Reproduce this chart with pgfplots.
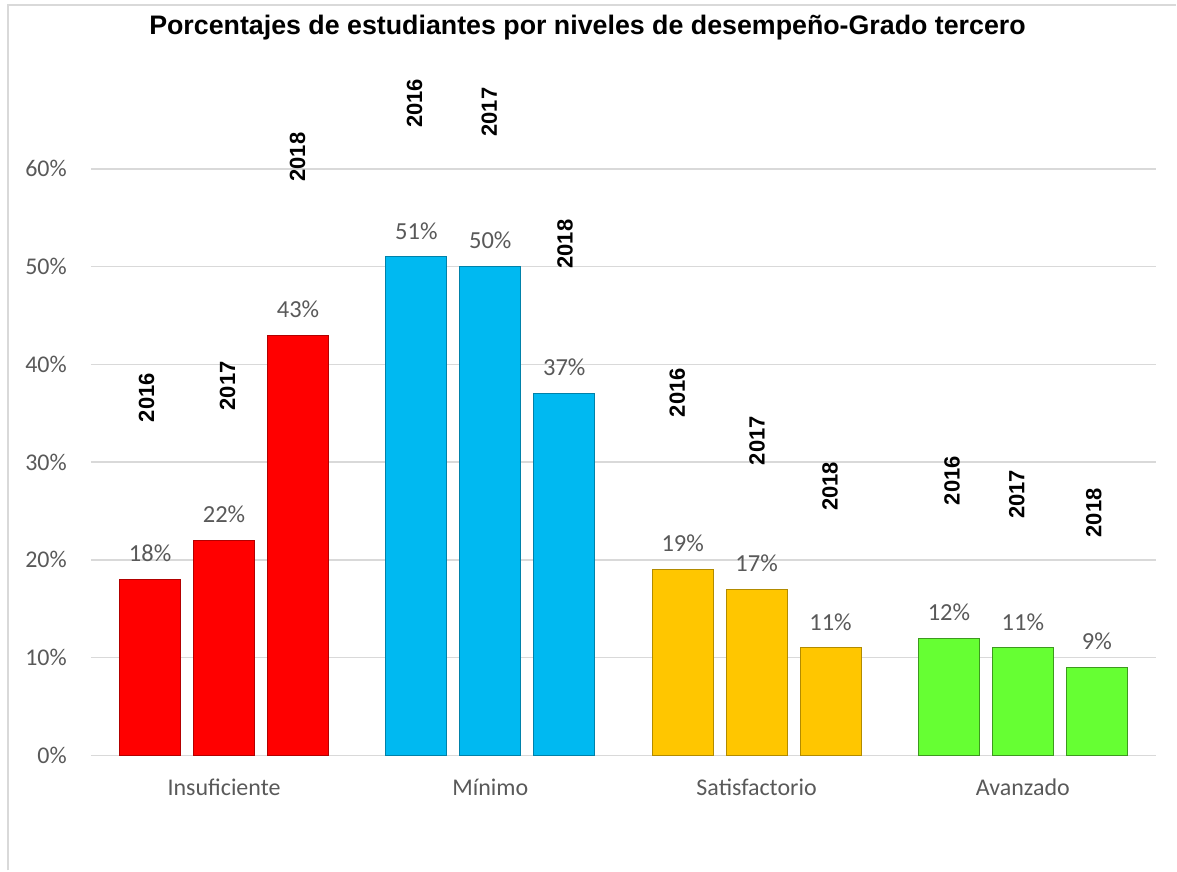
\documentclass[border=0pt]{standalone}
\usepackage{pgfplots}
\pgfplotsset{compat=1.18}
\usepackage{fontspec}
\setmainfont{Carlito}
\newfontfamily\arialf{Liberation Sans}
\definecolor{txtgray}{HTML}{595959}
\definecolor{gridgray}{HTML}{D9D9D9}
\definecolor{cRed}{HTML}{FF0000}
\definecolor{cBlue}{HTML}{00B9F1}
\definecolor{cGold}{HTML}{FFC600}
\definecolor{cGreen}{HTML}{66FF33}
\begin{document}
\begin{tikzpicture}[x=1pt,y=1pt]
\path (0,0) rectangle (1177,871);
\draw[gridgray, line width=2pt] (8,0) -- (8,865.5) -- (1177,865.5);
\node[font=\arialf\bfseries\fontsize{26.8}{30}\selectfont, anchor=base, inner sep=0pt] at (588,836) {Porcentajes de estudiantes por niveles de desempeño-Grado tercero};
\begin{axis}[
  at={(91pt,115pt)}, anchor=south west, scale only axis,
  width=1066pt, height=587pt,
  xmin=-0.5, xmax=3.5, ymin=0, ymax=60,
  clip=false,
  axis line style={draw=none}, tick style={draw=none},
  ymajorgrids, grid style={gridgray, line width=1.5pt},
  ytick={0,10,20,30,40,50,60},
  yticklabels={0\%,10\%,20\%,30\%,40\%,50\%,60\%},
  xtick={0,1,2,3},
  xticklabels={Insuficiente,Mínimo,Satisfactorio,Avanzado},
  ticklabel style={font=\fontsize{24}{28}\selectfont, text=txtgray, inner sep=0pt},
  xticklabel style={anchor=base, yshift=-40pt},
  yticklabel style={anchor=east, xshift=-24pt},
  /pgf/number format/assume math mode=true,
  bar width=0.229,
]
\pgfplotsset{barlab/.style={nodes near coords={\pgfmathprintnumber{\pgfplotspointmeta}\%},
  nodes near coords style={font=\fontsize{24.5}{28}\selectfont, text=txtgray, inner sep=0pt, anchor=south, yshift=17pt}}}
\addplot[ybar, bar shift=0pt, fill=cRed, draw=cRed!70!black, line width=1pt, barlab] table {
x y
-0.2777 18
0 22
0.2777 43
};
\addplot[ybar, bar shift=0pt, fill=cBlue, draw=cBlue!70!black, line width=1pt, barlab] table {
x y
0.7223 51
1 50
1.2777 37
};
\addplot[ybar, bar shift=0pt, fill=cGold, draw=cGold!70!black, line width=1pt, barlab] table {
x y
1.7223 19
2 17
2.2777 11
};
\addplot[ybar, bar shift=0pt, fill=cGreen, draw=cGreen!60!black, line width=1pt, barlab] table {
x y
2.7223 12
3 11
3.2777 9
};
\addplot[only marks, mark=*, mark size=0pt, mark options={draw=none, fill=none},
  point meta=explicit symbolic, nodes near coords,
  nodes near coords style={font=\arialf\bfseries\fontsize{22}{26}\selectfont, text=black, anchor=center, rotate=90, inner sep=0pt}]
  table[meta=label] {
x y label
-0.291 36.6 2016
0.013 37.8 2017
0.276 61.2 2018
0.715 66.7 2016
0.996 65.8 2017
1.281 52.3 2018
1.702 37.1 2016
2.002 32.2 2017
2.276 27.5 2018
2.734 28.1 2016
2.977 26.7 2017
3.266 24.8 2018
};
\end{axis}
\end{tikzpicture}
\end{document}
